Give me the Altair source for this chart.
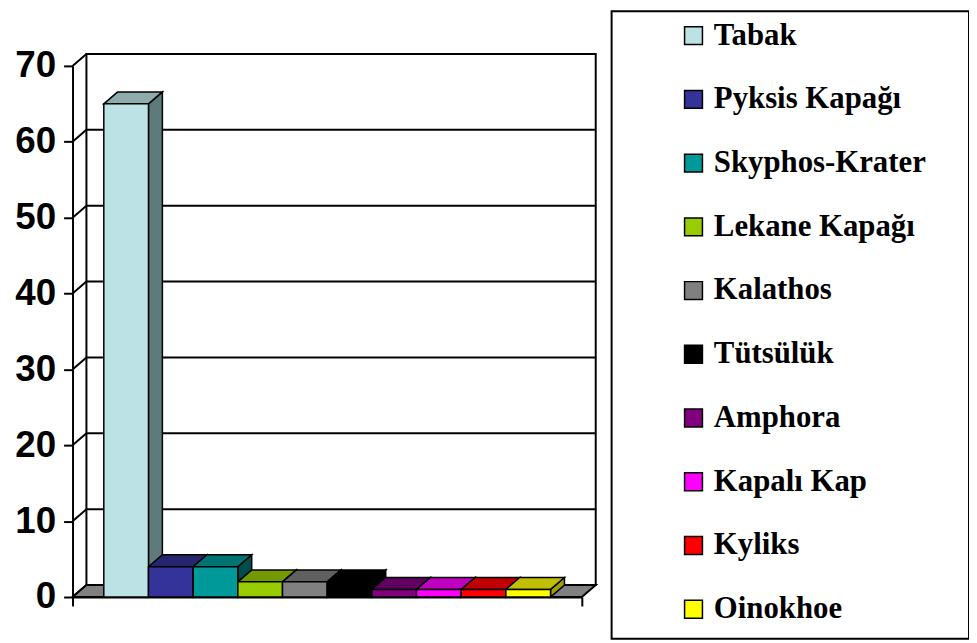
import altair as alt
import pandas as pd

# ---------------- data ----------------
names = ["Tabak", "Pyksis Kapağı", "Skyphos-Krater", "Lekane Kapağı", "Kalathos",
         "Tütsülük", "Amphora", "Kapalı Kap", "Kyliks", "Oinokhoe"]
values = [65, 4, 4, 2, 2, 2, 1, 1, 1, 1]
front_colors = ["#BCE2E5", "#333399", "#009999", "#99CC00", "#808080",
                "#000000", "#800080", "#FF00FF", "#FF0000", "#FFFF00"]
top_colors = ["#8EACAE", "#26266F", "#007373", "#739900", "#606060",
              "#000000", "#600060", "#C000C0", "#C00000", "#C0C000"]
side_colors = ["#5E7A7B", "#1A1A4D", "#004D4D", "#4D6600", "#404040",
               "#000000", "#400040", "#800080", "#800000", "#A0A000"]
y_ticks = [0, 10, 20, 30, 40, 50, 60, 70]

# ---------------- geometry (style) ----------------
W, H = 513, 535
GAP = 0.7
X_MAX = 2 * GAP + len(names)
Y_MAX = 70
DX = 14 / (W / X_MAX)      # depth offset, x data units
DY = 12 / (H / Y_MAX)      # depth offset, y data units
LW = 2

fronts, tops, sides = [], [], []
for i, (n, v) in enumerate(zip(names, values)):
    x0, x1 = GAP + i, GAP + i + 1
    fronts.append({"name": n, "x0": x0, "x1": x1, "y0": 0, "y1": v})
    tops.append({"name": n, "c": top_colors[i], "y": v, "xa": x0, "xb": x1})
    tops.append({"name": n, "c": top_colors[i], "y": v + DY, "xa": x0 + DX, "xb": x1 + DX})
    sides.append({"name": n, "c": side_colors[i], "x": x1, "ya": 0, "yb": v})
    sides.append({"name": n, "c": side_colors[i], "x": x1 + DX, "ya": DY, "yb": v + DY})
fronts = pd.DataFrame(fronts)
tops = pd.DataFrame(tops)
sides = pd.DataFrame(sides)

floor = pd.DataFrame([
    {"y": 0, "xa": 0, "xb": X_MAX},
    {"y": DY, "xa": DX, "xb": X_MAX + DX},
])
wall = pd.DataFrame([{"xa": DX, "xb": X_MAX + DX, "ya": DY, "yb": Y_MAX + DY}])
grid = pd.DataFrame([{"y": t + DY, "xa": DX, "xb": X_MAX + DX} for t in y_ticks])
conn = pd.DataFrame([{"xa": 0, "xb": DX, "ya": t, "yb": t + DY} for t in y_ticks])
one = pd.DataFrame({"k": [0]})

xs = alt.Scale(domain=[0, X_MAX], nice=False, zero=False)
ys = alt.Scale(domain=[0, Y_MAX], nice=False, zero=False)
x_axis = alt.Axis(values=[0, X_MAX], labels=False, tickSize=9, tickWidth=LW,
                  tickColor="black", domainColor="black", domainWidth=LW,
                  grid=False, title=None)
y_axis = alt.Axis(values=y_ticks, tickSize=9, tickWidth=LW, tickColor="black",
                  domainColor="black", domainWidth=LW, grid=False, title=None,
                  labelFont="Liberation Sans", labelFontWeight="bold",
                  labelFontSize=37, labelColor="black", labelPadding=8)


def X(f):
    return alt.X(f, type="quantitative", scale=xs, axis=x_axis, stack=None)


def Y(f):
    return alt.Y(f, type="quantitative", scale=ys, axis=y_axis, stack=None)


wall_l = alt.Chart(wall).mark_rect(fill="white", stroke="black", strokeWidth=LW).encode(
    x=X("xa"), x2="xb", y=Y("ya"), y2="yb")
grid_l = alt.Chart(grid).mark_rule(color="black", strokeWidth=LW).encode(
    x=X("xa"), x2="xb", y=Y("y"))
conn_l = alt.Chart(conn).mark_rule(color="black", strokeWidth=LW).encode(
    x=X("xa"), x2="xb", y=Y("ya"), y2="yb")
floor_l = alt.Chart(floor).mark_area(orient="horizontal", fill="#808080", stroke="black",
                                     strokeWidth=LW, opacity=1).encode(
    y=Y("y"), x=X("xa"), x2="xb")
side_l = alt.Chart(sides).mark_area(orient="vertical", stroke="black", strokeWidth=1.5,
                                    opacity=1, strokeJoin="miter").encode(
    x=X("x"), y=Y("yb"), y2="ya", detail="name:N",
    fill=alt.Fill("c:N", scale=None))
top_l = alt.Chart(tops).mark_area(orient="horizontal", stroke="black", strokeWidth=1.5,
                                  opacity=1, strokeJoin="miter").encode(
    y=Y("y"), x=X("xa"), x2="xb", detail="name:N",
    fill=alt.Fill("c:N", scale=None))
front_l = alt.Chart(fronts).mark_rect(stroke="black", strokeWidth=1.5, opacity=1,
                                      strokeJoin="miter").encode(
    x=X("x0"), x2="x1", y=Y("y0"), y2="y1",
    color=alt.Color("name:N", scale=alt.Scale(domain=names, range=front_colors),
                    legend=alt.Legend(orient="none", legendX=610, legendY=-46, title=None,
                                      symbolType="square", symbolSize=324,
                                      symbolStrokeColor="black", symbolStrokeWidth=1.5,
                                      symbolOpacity=1,
                                      labelFont="Liberation Serif", labelFontWeight="bold",
                                      labelFontSize=31, labelColor="black", labelOffset=5,
                                      rowPadding=32.2, padding=0, labelLimit=400)))
frame_l = alt.Chart(one).mark_rect(fill="transparent", stroke="black", strokeWidth=LW).encode(
    x=alt.value(543), x2=alt.value(903), y=alt.value(-55), y2=alt.value(577))

chart = alt.layer(wall_l, grid_l, conn_l, floor_l, side_l, top_l, front_l, frame_l).properties(
    width=W, height=H,
    padding={"left": 65, "top": 56, "right": 390, "bottom": 44},
    autosize=alt.AutoSizeParams(type="none"),
    background="white",
).configure_view(strokeWidth=0)

chart.save("out.html", embed_options={"renderer": "svg", "actions": False})
